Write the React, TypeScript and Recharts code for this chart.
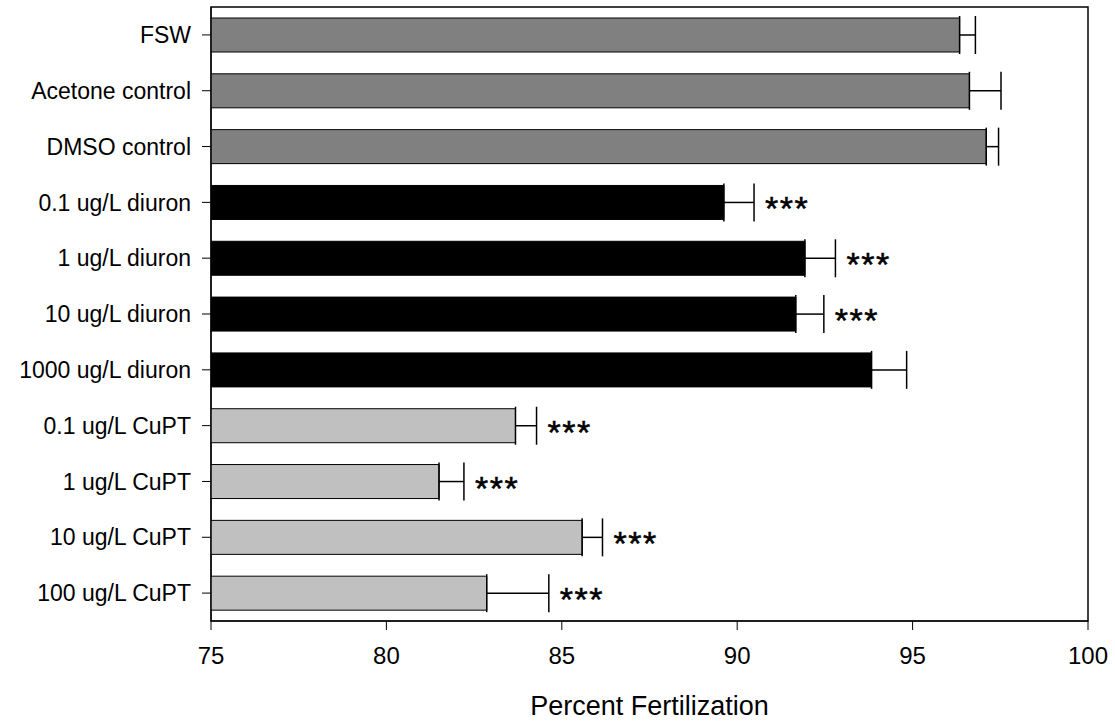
import React from 'react';
import { BarChart, Bar, XAxis, YAxis, Cell, ErrorBar, LabelList, Label, ReferenceArea } from 'recharts';

const categories = [
    'FSW', 'Acetone control', 'DMSO control',
    '0.1 ug/L diuron', '1 ug/L diuron', '10 ug/L diuron', '1000 ug/L diuron',
    '0.1 ug/L CuPT', '1 ug/L CuPT', '10 ug/L CuPT', '100 ug/L CuPT',
];
const means = [96.34, 96.62, 97.1, 89.62, 91.93, 91.67, 93.83, 83.68, 81.5, 85.58, 82.86];
const errors = [0.45, 0.9, 0.35, 0.86, 0.87, 0.8, 1.0, 0.6, 0.71, 0.58, 1.77];
const groups = ['control', 'control', 'control', 'diuron', 'diuron', 'diuron', 'diuron', 'cupt', 'cupt', 'cupt', 'cupt'];
const stars = ['', '', '', '***', '***', '***', '', '***', '***', '***', '***'];
const xTicks = [75, 80, 85, 90, 95, 100];

const colors: Record<string, string> = { control: '#808080', diuron: '#000000', cupt: '#c0c0c0' };

const data = categories.map((name, i) => ({
    name,
    value: means[i],
    err: [0, errors[i]],
    group: groups[i],
    stars: stars[i],
}));

const FONT = 'Liberation Sans, Arial, sans-serif';

// puts the asterisks just past the error bar cap
const StarLabel = (props: any) => {
    const { x, y, width, height, index } = props;
    const s = stars[index];
    if (!s) return null;
    const k = width / (means[index] - 75);
    const tx = x + width + errors[index] * k + 11;
    const ty = y + height / 2 + 18;
    return (
        <text x={tx} y={ty} fontSize={34} letterSpacing={1.5} fontFamily={FONT} fill="#000"
            stroke="#000" strokeWidth={0.5}>{s}</text>
    );
};

const App = () => {
    return (
        <div style={{ position: 'absolute', left: 0, top: 0, background: '#fff' }}>
            <BarChart
                width={1115}
                height={721}
                data={data}
                layout="vertical"
                margin={{ top: 7, right: 27, left: 0, bottom: 0 }}
            >
                <XAxis
                    type="number"
                    domain={[75, 100]}
                    ticks={xTicks}
                    allowDataOverflow
                    height={100}
                    tickSize={9}
                    tickMargin={17}
                    stroke="#000"
                    tick={{ fill: '#000', fontSize: 24, fontFamily: FONT }}
                >
                    <Label value="Percent Fertilization" position="insideBottom" offset={6}
                        style={{ fontSize: 27, fontFamily: FONT, fill: '#000' }} />
                </XAxis>
                <YAxis
                    type="category"
                    dataKey="name"
                    width={211}
                    tickSize={9}
                    tickMargin={11}
                    stroke="#000"
                    interval={0}
                    tick={{ fill: '#000', fontSize: 23, fontFamily: FONT }}
                />
                <ReferenceArea x1={75} x2={100} fill="none" stroke="#000" strokeWidth={1.5} />
                <Bar dataKey="value" barSize={34} stroke="#000" strokeWidth={1} isAnimationActive={false}>
                    {data.map((d, i) => (
                        <Cell key={i} fill={colors[d.group]} />
                    ))}
                    <ErrorBar dataKey="err" direction="x" width={19} stroke="#000" strokeWidth={1.5} />
                    <LabelList dataKey="stars" content={<StarLabel />} />
                </Bar>
            </BarChart>
        </div>
    );
};

export default App;
